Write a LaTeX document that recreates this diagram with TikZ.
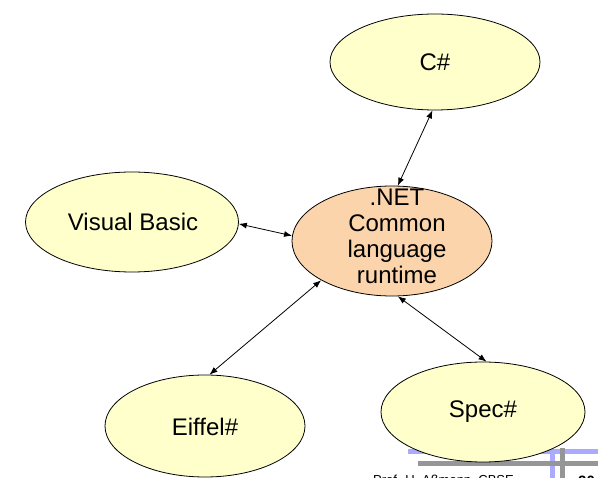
\documentclass[tikz,border=0pt]{standalone}
\usepackage{fontspec}
\setmainfont{Liberation Sans}
\usetikzlibrary{shapes.geometric,arrows.meta}
\definecolor{lang}{RGB}{255,255,204}
\definecolor{clr}{RGB}{252,212,172}
\definecolor{barblue}{RGB}{170,170,255}
\definecolor{bargray}{RGB}{150,150,150}
\tikzset{
  langell/.style={ellipse, draw=black, line width=0.8pt, fill=lang, inner sep=0pt},
  lbl/.style={font=\fontsize{24}{26}\selectfont, align=center, inner sep=0pt},
  link/.style={{Latex[length=8pt,width=6pt]}-{Latex[length=8pt,width=6pt]}, line width=0.8pt}
}
\begin{document}
\begin{tikzpicture}[x=1pt,y=1pt]
\useasboundingbox (0,0) rectangle (598,-478);
\clip (0,0) rectangle (598,-478);
% footer decoration
\fill[barblue] (408,-449) rectangle (598,-454);
\fill[barblue] (550,-450) rectangle (555,-478);
\fill[bargray] (418,-461) rectangle (598,-466);
\fill[bargray] (560,-448) rectangle (565,-478);
\node[anchor=base west, font=\fontsize{13}{15}\selectfont, inner sep=0pt] (foot) at (373,-484.5) {Prof. U. Aßmann, CBSE};
\node[anchor=base west, font=\bfseries\fontsize{15}{17}\selectfont, inner sep=0pt] (pg) at (578,-487) {20};
% ellipses
\node[langell, minimum width=210, minimum height=96] (cs) at (435,-62) {};
\node[langell, minimum width=213, minimum height=100] (vb) at (132,-222) {};
\node[langell, fill=clr, minimum width=200, minimum height=110] (net) at (392,-241) {};
\node[langell, minimum width=200, minimum height=102] (eif) at (205,-426) {};
\node[langell, minimum width=204, minimum height=100] (spec) at (483,-412) {};
% labels
\node[lbl] (tcs) at (435,-62) {C\#};
\node[lbl] (tvb) at (133,-222) {Visual Basic};
\node[lbl] (tnet) at (397,-236) {.NET\\Common\\language\\runtime};
\node[lbl] (teif) at (205,-427) {Eiffel\#};
\node[lbl] (tspec) at (483,-412) {Spec\#};
% connectors
\draw[link] (cs.267) -- (net.84);
\draw[link] (vb.359) -- (net.177);
\draw[link] (net.209) -- (eif.85);
\draw[link] (net.276) -- (spec.86);
\end{tikzpicture}
\end{document}
